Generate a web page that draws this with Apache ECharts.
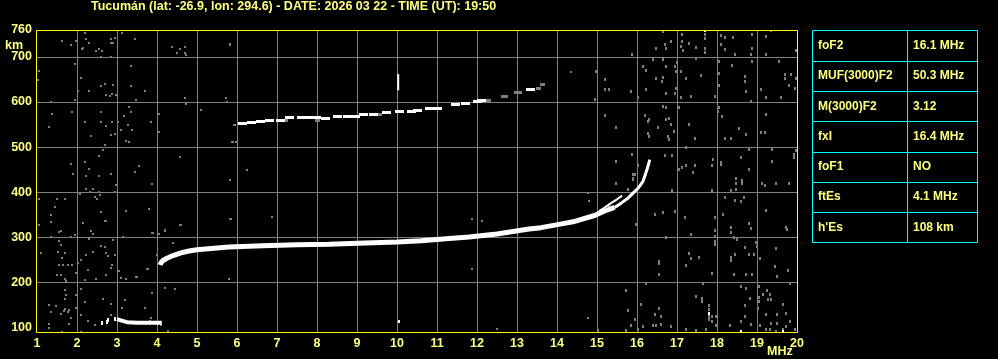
<!DOCTYPE html>
<html><head><meta charset="utf-8">
<script src="https://cdn.jsdelivr.net/npm/echarts@6/dist/echarts.min.js"></script>
<style>html,body{margin:0;padding:0;background:#000;}#c{width:998px;height:359px;}</style>
</head><body><div id="c"></div>
<script>
const titleText = "Tucumán (lat: -26.9, lon: 294.6) - DATE: 2026 03 22 - TIME (UT): 19:50";
const heightLabels = [100,200,300,400,500,600,700,760];
const tableKeys = ["foF2","MUF(3000)F2","M(3000)F2","fxI","foF1","ftEs","h'Es"];
const tableValues = ["16.1 MHz","50.3 MHz","3.12","16.4 MHz","NO","4.1 MHz","108 km"];

// F2 ordinary trace (freq MHz, virtual height km)
const f2Trace = [[4.08,238],[4.1,243],[4.15,248],[4.25,253],[4.4,259],[4.6,265],[4.8,269],[5.0,272],[5.5,276],[5.8,278],[6.65,281],[7.5,283],[8.3,284],[9.2,287],[10.0,289],[10.6,292],[11.15,296],[11.8,300],[12.5,307],[13.3,318],[13.6,321],[14.15,330],[14.4,334],[14.94,348],[15.19,358],[15.44,366]];
const f2Tail = [[15.44,366],[15.61,376],[15.78,387],[15.94,401],[16.03,409],[16.15,424],[16.2,437],[16.25,450],[16.32,472]];
const f2Branch = [[15.05,358],[15.2,366],[15.34,375],[15.5,384],[15.63,392]];
const f2BranchFaint = [[15.78,405],[15.9,427],[15.94,440],[15.3,367],[14.75,343]];
// second hop
const secondHop = [[6.13,553],[6.36,555],[6.58,556],[6.82,558],[7.08,558],[7.3,566],[7.6,566],[7.75,566],[7.99,565],[8.2,564],[8.5,567],[8.75,567],[8.95,567],[9.15,573],[9.4,573],[9.74,576],[10.05,580],[10.35,580],[10.5,581],[10.8,586],[11.0,586],[11.45,595],[11.7,596],[12.0,601],[12.12,604],[13.33,628]];
const secondHopFaint = [[12.28,604],[12.65,613],[12.72,613],[12.98,621],[13.05,621],[13.53,630],[13.63,638],[9.55,573],[7.2,560],[8.0,560]];
// sporadic E
const esTrace = [[3.0,118],[3.1,115],[3.25,111],[3.5,110],[3.8,110],[4.12,110]];
const esBits = [[2.62,110],[2.76,112],[2.77,116],[2.95,119]];
const spike10 = [[10.03,626],[10.03,662]];
const whiteDots = [[10.05,113],[18.6,91],[19.65,91],[17.79,131],[17.69,759]];

const noiseLeft = [[2.19,753],[3.13,753],[1.63,736],[1.98,736],[2.23,741],[2.30,731],[1.84,727],[2.15,721],[2.13,718],[2.54,718],[2.48,714],[2.63,714],[2.84,741],[2.90,731],[2.84,731],[2.94,742],[3.44,741],[2.61,701],[2.84,699],[4.38,723],[4.58,718],[4.69,723],[4.51,709],[4.69,709],[4.73,705],[5.83,727],
[1.04,668],[1.03,650],[1.94,684],[3.34,679],[2.09,653],[2.69,640],[2.90,638],[2.61,635],[3.36,636],[2.03,624],[2.29,624],[2.73,616],[2.88,618],[2.98,616],[2.82,613],[3.69,624],[1.94,605],[3.48,605],[1.34,600],[4.69,609],[4.73,596],[5.73,609],[5.76,600],
[3.29,590],[3.36,578],[1.88,578],[1.38,573],[2.59,578],[3.18,568],[2.19,556],[2.59,556],[2.88,556],[3.03,556],[2.73,546],[3.28,550],[3.86,556],[5.94,550],[1.29,544],[3.11,538],[3.38,538],[4.04,573],[4.04,533],[2.34,524],[2.84,526],[2.94,529],[3.23,514],[3.29,511],[5.09,583],[5.90,511],[5.98,511],
[2.69,504],[2.65,494],[2.54,481],[1.84,462],[2.19,467],[3.55,458],[2.29,452],[3.44,444],[1.90,441],[2.23,436],[2.54,436],[2.84,440],[4.58,479],[3.88,418],[2.98,416],[2.23,407],[2.32,401],[2.40,407],[2.54,401],[2.94,401],[2.08,396],[2.44,390],[2.51,385],[2.58,393],
[1.04,385],[1.51,385],[1.69,385],[1.44,367],[2.59,355],[3.23,358],[3.80,363],[1.34,350],[1.34,333],[2.15,331],[2.69,336],[2.73,336],[1.04,327],[4.59,327],[5.84,341],[1.54,311],[1.59,314],[2.34,314],[2.40,307],[3.90,310],[4.19,315],[4.04,307],[1.34,300],[1.84,301],[1.94,304],[3.15,300],
[2.29,296],[2.90,293],[1.54,292],[1.09,264],[1.59,283],[1.53,266],[1.69,264],[2.59,281],[2.69,277],[2.40,267],[2.23,261],[2.73,264],[2.78,257],[2.94,261],[1.63,253],[2.09,250],[2.03,242],[1.54,237],[1.65,237],[1.78,237],[1.88,237],[2.88,237],[2.84,231],[1.98,220],[2.28,227],[3.76,230],[3.04,225],[1.50,216],[1.59,215],[2.73,215],[2.19,205],[2.48,207],[3.09,210],[3.23,207],[3.48,211],[1.69,207],[1.73,203],[5.79,207],
[2.09,185],[1.71,183],[1.73,172],[1.69,163],[1.97,172],[4.19,187],[4.44,185],[2.19,156],[2.65,163],[3.19,161],[3.88,176],[2.84,151],[1.29,150],[1.48,146],[1.71,141],[1.80,138],[1.98,142],[1.68,135],[1.59,130],[1.78,133],[1.34,133],[1.86,120],[2.28,114],[3.13,142],[3.69,142],[2.11,127],[1.80,107],[1.29,107],[2.44,105],[2.84,127],[3.82,113],[4.11,105],[4.28,92],[1.63,89],[2.09,89],[1.29,98],
[4.58,327],[3.88,310],[4.03,307],[4.19,314],[4.39,287],[3.49,212],[3.78,229],[3.88,176],[4.19,186],[4.44,184],[3.69,143],[3.84,121],[3.99,260]];

const noiseMid = [[5.82,728],[5.92,549],[5.88,512],[5.98,512],[6.24,449],[5.83,427],[14.34,667],[14.94,604],[14.78,397],[6.88,345],[5.83,340],[11.88,340],[12.13,336],[11.88,229],[14.78,121],[12.49,95],[14.8,380],[5.79,207]];

const noiseRight = [[16.65,757],[17.13,750],[17.69,750],[18.09,748],[18.19,744],[18.40,744],[18.88,750],[19.23,746],[19.34,758],[17.69,741],[17.13,735],[17.30,731],[16.69,727],[16.84,735],[16.73,720],[16.48,718],[17.09,724],[17.15,714],[17.48,722],[17.69,720],[17.69,709],[18.09,727],[18.19,716],[18.88,718],[18.84,705],[18.44,705],[19.23,705],[19.98,714],[15.88,705],
[16.40,694],[16.65,694],[17.01,687],[17.48,696],[18.05,690],[18.38,681],[18.88,690],[19.55,690],[16.15,679],[16.23,670],[16.72,679],[16.94,679],[16.97,668],[17.09,668],[16.48,653],[16.65,655],[16.63,646],[17.23,652],[17.59,658],[18.04,663],[18.69,657],[18.69,646],[19.69,662],[19.86,662],[19.69,653],[19.98,653],[15.19,650],[15.19,627],[15.29,627],[16.23,627],[15.86,624],[16.73,618],[16.98,631],[16.94,618],[17.34,613],[17.09,609],[17.94,613],[18.04,636],[18.73,624],[19.09,627],[19.23,609],[19.59,609],[19.80,636],[19.94,631],[14.96,605],[16.03,609],
[16.65,590],[16.72,587],[17.05,587],[18.04,587],[18.03,579],[15.19,570],[16.19,570],[16.29,561],[16.28,557],[16.53,544],[16.73,561],[16.79,564],[16.84,551],[16.93,535],[17.30,551],[18.13,568],[18.54,542],[18.73,529],[19.09,533],[19.19,533],[19.23,573],[16.28,531],[16.29,524],[16.78,524],[16.79,516],[17.44,520],[18.19,520],[18.34,520],[15.48,544],[14.98,668],[18.86,601],
[15.88,484],[16.03,459],[16.29,461],[16.69,481],[16.88,481],[17.23,498],[17.05,450],[17.13,455],[17.23,459],[17.44,458],[17.40,444],[17.90,472],[17.88,459],[18.09,466],[18.09,462],[18.59,476],[18.79,494],[18.79,450],[19.38,494],[19.38,467],[19.92,484],[19.97,492],[19.93,476],[15.48,467],[15.48,418],[15.90,431],[15.90,438],[17.88,403],[18.34,403],[18.48,430],[18.48,418],[18.48,405],[18.63,425],[18.63,418],[19.13,420],[19.19,415],[19.48,420],[19.79,420],[16.88,403],
[18.19,389],[18.44,381],[18.68,388],[18.61,379],[18.15,350],[17.94,344],[18.34,322],[18.36,311],[18.79,330],[18.84,318],[17.19,344],[16.44,350],[16.65,355],[16.94,357],[15.98,327],[17.94,315],[17.94,301],[18.43,299],[18.49,294],[18.98,287],[19.01,279],[19.23,358],[19.73,321],[19.76,316],[17.34,305],[16.73,299],
[17.94,290],[17.94,283],[17.30,264],[17.34,252],[17.54,255],[17.23,238],[16.54,246],[16.54,242],[18.34,255],[18.34,247],[18.44,261],[18.69,278],[18.80,261],[18.93,261],[19.08,252],[19.48,274],[19.44,235],[19.78,225],[19.51,213],[18.43,216],[18.73,216],[18.88,216],[16.54,216],[17.88,220],[16.23,198],[17.65,198],[19.82,198],
[15.73,181],[16.09,151],[15.78,138],[16.44,129],[16.54,142],[16.59,124],[17.48,168],[17.63,163],[17.63,158],[17.79,148],[17.79,140],[17.79,124],[17.79,116],[17.88,124],[17.88,113],[17.97,124],[18.59,190],[18.73,185],[19.05,190],[19.15,172],[19.25,181],[19.33,172],[19.05,166],[19.05,156],[19.03,142],[18.69,148],[18.69,124],[18.82,164],[19.28,161],[19.34,161],[19.23,127],[19.65,151],[19.51,129],[19.73,131],[19.82,113],[19.36,109],[19.51,107],[19.07,103],[18.86,105],[18.61,113],[18.32,103],[17.97,103],[17.73,94],[17.48,92],[17.23,94],[16.84,101],[16.61,105],[16.48,103],[16.40,103],[16.15,101],[16.03,94],[15.84,103],[15.73,92],[15.03,92],[19.23,94],[19.32,94],[19.48,90],[19.65,94],[19.94,94],[19.73,101],[15.94,116]];

const chart = echarts.init(document.getElementById('c'), null, {renderer:'canvas'});
const TXT = '#ffff80';
const FONT = 'Liberation Sans, Arial, sans-serif';

// table graphic
const tbl = {x:812.5, y:30.5, w:165, h:212, split:907.5};
const rowH = tbl.h / tableKeys.length;
const graphics = [];
graphics.push({type:'rect', shape:{x:tbl.x,y:tbl.y,width:tbl.w,height:tbl.h}, style:{fill:null, stroke:'#00ffff', lineWidth:1}});
graphics.push({type:'line', shape:{x1:tbl.split,y1:tbl.y,x2:tbl.split,y2:tbl.y+tbl.h}, style:{stroke:'#00ffff', lineWidth:1}});
for (let i=0;i<tableKeys.length;i++){
  const yTop = tbl.y + i*rowH;
  if (i>0) graphics.push({type:'line', shape:{x1:tbl.x,y1:Math.round(yTop)+0.5,x2:tbl.x+tbl.w,y2:Math.round(yTop)+0.5}, style:{stroke:'#00ffff', lineWidth:1}});
  const yc = yTop + rowH/2;
  graphics.push({type:'text', x:818, y:yc, style:{text:tableKeys[i], fill:TXT, font:'bold 12px '+FONT, textVerticalAlign:'middle', textAlign:'left'}});
  graphics.push({type:'text', x:913, y:yc, style:{text:tableValues[i], fill:TXT, font:'bold 12px '+FONT, textVerticalAlign:'middle', textAlign:'left'}});
}
graphics.push({type:'text', x:91, y:7, style:{text:titleText, fill:TXT, font:'bold 12.5px '+FONT, textVerticalAlign:'middle', textAlign:'left'}});
graphics.push({type:'text', x:5, y:46, style:{text:'km', fill:TXT, font:'bold 12.5px '+FONT, textVerticalAlign:'middle', textAlign:'left'}});
graphics.push({type:'text', x:767, y:351.5, style:{text:'MHz', fill:TXT, font:'bold 12.5px '+FONT, textVerticalAlign:'middle', textAlign:'left'}});
// plot frame (crisp yellow)
graphics.push({type:'rect', z:100, shape:{x:36.5, y:30.5, width:761, height:302}, style:{fill:null, stroke:'#ffff00', lineWidth:1}});

// pixel-snapped dots placed via the axis scales
function pix(data, color, w, h, z){
  return {type:'custom', data:data, silent:true, z:z||3, clip:true,
    renderItem:function(params, api){
      const p = api.coord([api.value(0), api.value(1)]);
      return {type:'rect', shape:{x:Math.round(p[0]-w/2), y:Math.round(p[1]-h/2), width:w, height:h}, style:{fill:color}};
    }};
}
function line(data, color, w, z){
  return {type:'line', data:data, symbol:'none', lineStyle:{color:color, width:w, cap:'butt'}, silent:true, z:z||4};
}

chart.setOption({
  backgroundColor:'#000',
  animation:false,
  graphic:graphics,
  grid:{left:37, right:201, top:30, bottom:26, show:false, outerBoundsMode:'none', containLabel:false},
  xAxis:{type:'value', min:1, max:20, interval:1,
    axisLine:{show:false}, axisTick:{show:false},
    axisLabel:{color:TXT, fontWeight:'bold', fontSize:12.5, fontFamily:FONT, margin:4},
    splitLine:{show:true, showMinLine:false, showMaxLine:false, lineStyle:{color:'#808080', width:1}}},
  yAxis:{type:'value', min:87, max:760,
    axisLine:{show:false}, axisTick:{show:false, customValues:heightLabels},
    axisLabel:{color:TXT, fontWeight:'bold', fontSize:12.5, fontFamily:FONT, margin:5, customValues:heightLabels},
    splitLine:{show:true, showMinLine:false, showMaxLine:false, lineStyle:{color:'#808080', width:1}}},
  series:[
    pix(noiseLeft, '#808080', 2, 2),
    pix(noiseMid, '#808080', 2, 2),
    pix(noiseRight, '#808080', 2, 3),
    pix(secondHopFaint, '#808080', 5, 3),
    pix(f2BranchFaint, '#808080', 2, 3),
    line(f2Trace, '#ffffff', 5),
    line(f2Tail, '#ffffff', 3),
    line(f2Branch, '#ffffff', 2),
    pix(secondHop, '#ffffff', 9, 3, 5),
    line(esTrace, '#ffffff', 4),
    pix(esBits, '#ffffff', 2, 4, 5),
    line(spike10, '#ffffff', 2),
    pix(whiteDots, '#ffffff', 2, 3, 5)
  ]
});
</script></body></html>
